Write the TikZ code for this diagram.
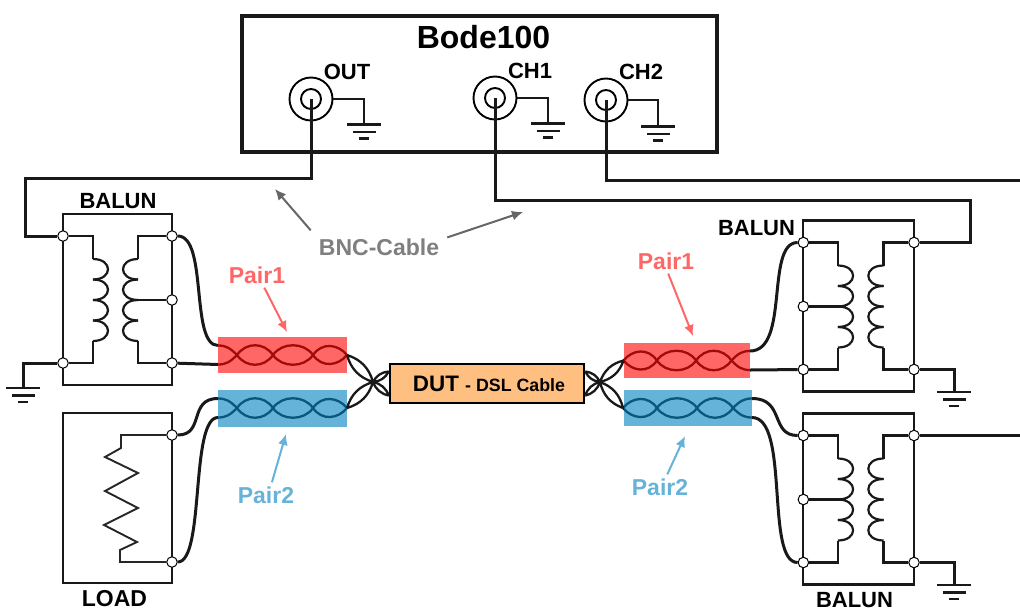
\documentclass[tikz,border=0pt]{standalone}
\usepackage{fontspec}
\usetikzlibrary{arrows.meta}
\setmainfont{Liberation Sans}
\definecolor{pairred}{rgb}{1,0,0}
\definecolor{pairblue}{rgb}{0,0.5,0.75}
\definecolor{pairredtext}{HTML}{FF6666}
\definecolor{pairbluetext}{HTML}{66B2D9}
\definecolor{dutfill}{HTML}{FFBF80}
\definecolor{bncgrey}{HTML}{7F7F7F}
\tikzset{
  wire/.style={line width=3pt, black!90},
  thin wire/.style={line width=2.2pt, black!90},
  strand/.style={line width=2.3pt, black!90},
  term/.style={circle, draw, fill=white, line width=1pt, minimum size=10.5pt, inner sep=0pt},
  bnc/.style={circle, draw, line width=1.9pt, minimum size=43pt, inner sep=0pt},
  bnc core/.style={circle, draw, line width=1.9pt, minimum size=20pt, inner sep=0pt},
  lbl/.style={font=\bfseries\fontsize{22}{24}\selectfont, inner sep=1pt},
  pair lbl/.style={font=\bfseries\fontsize{23}{25}\selectfont, inner sep=4pt},
  note arrow/.style={-{Latex[length=11pt,width=10pt]}, line width=2pt},
  balun/.pic={
    \draw[thin wire] (0,0) rectangle (109,171);
    \node[term] (-pa) at (0,22) {};
    \node[term] (-pb) at (0,149) {};
    \node[term] (-sa) at (109,22) {};
    \node[term] (-st) at (109,86) {};
    \node[term] (-sb) at (109,149) {};
    % Windings
    \draw[thin wire] (-pa) -| (30,45);
    \draw[thin wire] (-pb) -| (30,127);
    \draw[thin wire] (-sa) -| (75,45);
    \draw[thin wire] (-sb) -| (75,127);
    \draw[thin wire] (-st) -- (67,86);
    \foreach \y in {45,65.5,86,106.5} {
      \draw[thin wire] (30,\y) .. controls (50,\y) and (50,\y+20.5) .. (30,\y+20.5);
      \draw[thin wire] (75,\y) .. controls (55,\y) and (55,\y+20.5) .. (75,\y+20.5);
    }
  },
  twist/.pic={
    \coordinate (-u) at (0,-9.5);
    \coordinate (-d) at (0,9.5);
    \coordinate (-m) at (129,0);
    \foreach \s in {1,-1} {
      \draw[strand, yscale=\s] (0,-9.5) .. controls (8,-9.5) and (12,-7) .. (19,0)
        .. controls (28,13) and (46,13) .. (55,0)
        .. controls (64,-13) and (86,-13) .. (95,0)
        .. controls (104,13) and (120,11) .. (129,0);
    }
  },
  gnd/.pic={
    \draw[thin wire, line width=2.6pt] (-17,0) -- (17,0);
    \draw[thin wire, line width=2.6pt] (-11.5,7.5) -- (11.5,7.5);
    \draw[thin wire, line width=2.6pt] (-5,14) -- (5,14);
  }
}
\begin{document}
\begin{tikzpicture}[x=1pt,y=-1pt]
  \useasboundingbox (0,0) rectangle (1020,611);

  % Bode100
  \draw[line width=3.4pt, black!90] (242,16) rectangle (717,152);
  \node[font=\bfseries\fontsize{32}{34}\selectfont, inner sep=1pt] (bode) at (483.5,37) {Bode100};
  \node[bnc] (out) at (311,99) {};
  \node[bnc] (chone) at (495,98) {};
  \node[bnc] (chtwo) at (606,100) {};
  \node[bnc core] at (out.center) {};
  \node[bnc core] at (chone.center) {};
  \node[bnc core] at (chtwo.center) {};
  \node[lbl] (outlbl) at (347,72) {OUT};
  \node[lbl] (chonelbl) at (530,71) {CH1};
  \node[lbl] (chtwolbl) at (641,72) {CH2};

  % Grounds
  \foreach \n/\x/\y in {gndA/364/124.5, gndB/548/123.5, gndC/658/126.5, gndL/23/388, gndT/954/392, gndD/954/585} {
    \coordinate (\n) at (\x,\y);
    \pic at (\n) {gnd};
  }
  \draw[thin wire] (out.east) -| (gndA);
  \draw[thin wire] (chone.east) -| (gndB);
  \draw[thin wire] (chtwo.east) -| (gndC);

  % Baluns
  \pic (balunL) at (63,214) {balun};
  \pic[xscale=-1.015] (balunT) at (914,220.5) {balun};
  \pic[xscale=-1.015] (balunD) at (914,413.5) {balun};
  \node[lbl] (balunLlbl) at (118,201) {BALUN};
  \node[lbl] (balunTlbl) at (756.5,228) {BALUN};
  \node[lbl, inner sep=0pt] (balunDlbl) at (854.5,600) {BALUN};
  \draw[wire] (balunL-pb) -| (gndL);
  \draw[wire] (balunT-pb) -| (gndT);
  \draw[wire] (balunD-pb) -| (gndD);

  % Load
  \draw[thin wire] (63,413) rectangle (172,583);
  \node[term] (loada) at (172,435) {};
  \node[term] (loadb) at (172,562) {};
  \draw[line width=1.9pt, black!85] (loada) -| (121,448) -- (105,457) -- (138,473) -- (105,491)
    -- (138,508) -- (104,525) -- (137,542) -- (120,550) |- (loadb);
  \node[lbl,font=\bfseries\fontsize{23}{25}\selectfont] (loadlbl) at (114.5,599) {LOAD};

  % BNC cables
  \coordinate (chtwoend) at (1020,180);
  \coordinate (balunDend) at (1020,435.5);
  \draw[wire] (out.center) |- (25,178.5) |- (balunL-pa);
  \draw[wire] (chone.center) |- (970,200.5) |- (balunT-pa);
  \draw[wire] (chtwo.center) |- (chtwoend);
  \draw[wire] (balunD-pa) -- (balunDend);

  % Twisted pairs
  \pic (twA) at (218,355) {twist};
  \pic (twB) at (218,408) {twist};
  \pic[xscale=-0.98] (twC) at (750,360.5) {twist};
  \pic[xscale=-1] (twD) at (752,408) {twist};

  \draw[wire] (balunL-sa) .. controls (208,236) and (190,345.5) .. (twA-u);
  \draw[wire] (balunL-sb) -- (twA-d);
  \draw[wire] (loada) .. controls (205,435) and (188,398.5) .. (twB-u);
  \draw[wire] (loadb) .. controls (205,562) and (190,417.5) .. (twB-d);
  \draw[wire] (balunT-sa) .. controls (765,242.5) and (790,351) .. (twC-u);
  \draw[wire] (balunT-sb) -- (twC-d);
  \draw[wire] (balunD-sa) .. controls (770,435.5) and (785,398.5) .. (twD-u);
  \draw[wire] (balunD-sb) .. controls (765,562.5) and (790,417.5) .. (twD-d);

  \fill[pairred, opacity=0.6] (218,337) rectangle (347,373);
  \fill[pairblue, opacity=0.6] (218,390) rectangle (347,427);
  \fill[pairred, opacity=0.6] (624,343) rectangle (750,378);
  \fill[pairblue, opacity=0.6] (624,390) rectangle (752,426);

  % DUT
  \node[draw, fill=dutfill, line width=2.4pt, minimum width=194pt, minimum height=39pt, inner sep=0pt] (dut) at (487,383.5)
    {\hspace{4pt}\bfseries\fontsize{22.4}{24}\selectfont DUT \fontsize{17.8}{20}\selectfont - DSL Cable};
  \coordinate (crossL) at (373,382);
  \coordinate (crossR) at (600,382);
  \foreach \a/\b in {twA-m/crossL, twB-m/crossL, dut.173/crossL, dut.187/crossL,
                     twC-m/crossR, twD-m/crossR, dut.7/crossR, dut.-7/crossR} {
    \draw[strand] (\a) to[bend left=28] (\b) to[bend left=28] (\a);
  }

  % Labels
  \node[pair lbl, text=bncgrey, inner sep=8pt] (bnclbl) at (379,247) {BNC-Cable};
  \coordinate (bncA) at (275,189);
  \coordinate (bncB) at (523,212);
  \draw[note arrow, black!60] (bnclbl.north west) -- (bncA);
  \draw[note arrow, black!60] (bnclbl.8) -- (bncB);

  \node[pair lbl, text=pairredtext] (pairAlbl) at (257,275) {Pair1};
  \node[pair lbl, text=pairredtext] (pairClbl) at (666,261) {Pair1};
  \node[pair lbl, text=pairbluetext] (pairBlbl) at (266,495) {Pair2};
  \node[pair lbl, text=pairbluetext] (pairDlbl) at (660,487) {Pair2};
  \coordinate (pairAtip) at (287,332);
  \coordinate (pairCtip) at (693,336);
  \coordinate (pairBtip) at (286,434);
  \coordinate (pairDtip) at (685,436);
  \draw[note arrow, pairredtext] (pairAlbl.-60) -- (pairAtip);
  \draw[note arrow, pairredtext] (pairClbl.-80) -- (pairCtip);
  \draw[note arrow, pairbluetext] (pairBlbl.65) -- (pairBtip);
  \draw[note arrow, pairbluetext] (pairDlbl.60) -- (pairDtip);
\end{tikzpicture}
\end{document}
